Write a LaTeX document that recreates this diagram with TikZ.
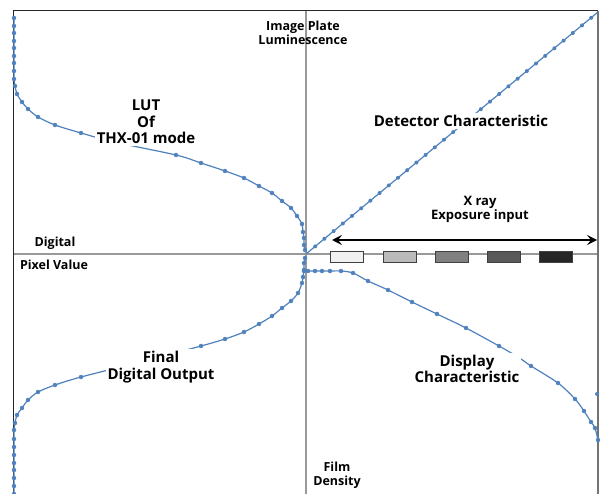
\documentclass[tikz,border=0pt]{standalone}
\usepackage{fontspec}
\setmainfont{Open Sans}
\usetikzlibrary{arrows.meta}

\definecolor{lineblue}{HTML}{4F81BD}
\newcommand{\biglabel}{\fontsize{15}{16.5}\selectfont\bfseries}
\newcommand{\smalllabel}{\fontsize{12.5}{14}\selectfont\bfseries}

\tikzset{
  curve/.style={draw=lineblue, line width=1.2pt, mark=*, mark size=2pt,
    mark options={fill=lineblue, draw=lineblue, line width=0.4pt}},
  tag/.style={fill=white, inner sep=2pt, align=center, font=\biglabel},
  axistag/.style={inner sep=0pt, align=center, font=\smalllabel},
  shadebox/.style={draw=black!75, line width=0.6pt, minimum width=33pt,
    minimum height=11pt, inner sep=0pt}
}

\begin{document}
\begin{tikzpicture}[x=1pt,y=-1pt]
  \useasboundingbox (0,0) rectangle (602,494);

  % axes through the origin
  \coordinate (O) at (306,254);
  \coordinate (top) at (306,11);
  \coordinate (bottom) at (306,494);
  \coordinate (left) at (13,254);
  \coordinate (right) at (598,254);
  \draw[black!40, line width=1.2pt] (top) -- (bottom);
  \draw[black!40, line width=1.8pt] (left) -- (right);

  % frame
  \draw[black!85, line width=1pt] (13,494) |- (598,11);
  \draw[black!55, line width=1.4pt] (598,11) -- (598,494);

  % detector characteristic, straight
  \coordinate (dtop) at (598,12);
  \draw[lineblue, line width=1.2pt] (O) -- (dtop);
  \foreach \i in {1,...,31}
    \fill[lineblue] ({306+9.2*\i},{254-7.62*\i}) circle (2);

  % LUT
  \draw[curve] plot[smooth] coordinates {
    (305,250) (304,245) (304,238) (303,232) (302,224) (297,216) (291,208)
    (282,201) (272,193) (259,186) (244,178) (225,171) (201,163) (176,155)
    (114,142) (81,133) (55,125) (38,117) (28,109) (22,102) (17,94) (15,86)
    (14,79) (14,71) (14,63) (14,56) (14,48) (14,41) (14,33) (14,26) (14,18)};

  % final digital output
  \draw[curve] plot[smooth] coordinates {
    (305,258) (304,263) (304,270) (303,277) (302,283) (298,293) (291,301)
    (282,308) (272,316) (259,324) (244,332) (225,339) (201,346) (148,360)
    (81,377) (55,385) (38,392) (28,400) (22,408) (17,415) (15,423)
    (14,430) (14,439) (14,447) (14,455) (14,463) (14,470) (14,478)
    (14,486) (14,494)};

  % display characteristic
  \draw[curve] plot[smooth] coordinates {
    (304,271) (308,271) (315,271) (322,271) (330,271) (341,271) (353,273)
    (368,281) (388,290) (412,302) (437,314) (466,328) (499,346) (518,357)
    (531,366) (558,383) (575,399) (584,411) (591,422) (595,428) (598,440)};
  \fill[lineblue] (597,394) circle (2);

  % exposure steps
  \foreach \x/\k [count=\n] in {347/6, 399.5/27, 451.5/50, 504/65, 556/85}
    \node[shadebox, fill=black!\k] (step\n) at (\x,256.5) {};

  % exposure range
  \coordinate (xl) at (332,240);
  \coordinate (xr) at (597,240);
  \draw[{Stealth[length=10pt,width=10pt,inset=4pt]}-{Stealth[length=10pt,width=10pt,inset=4pt]},
    line width=1.8pt] (xl) -- (xr);

  % labels
  \node[axistag] (lum) at (303,33) {Image Plate\\Luminescence};
  \node[axistag] (dig) at (55,243) {Digital};
  \node[axistag] (pix) at (54,265) {Pixel Value};
  \node[axistag] (film) at (337,475) {Film\\Density};
  \node[axistag, font=\fontsize{13}{14}\selectfont\bfseries] (xray) at (480,209) {X ray\\Exposure input};

  \node[tag] (det) at (461,121) {Detector Characteristic};
  \node[tag] (lut) at (146,122) {LUT\\Of\\THX-01 mode};
  \node[tag] (final) at (161,367) {Final\\Digital Output};
  \node[tag] (disp) at (467,369) {Display\\Characteristic};
\end{tikzpicture}
\end{document}
